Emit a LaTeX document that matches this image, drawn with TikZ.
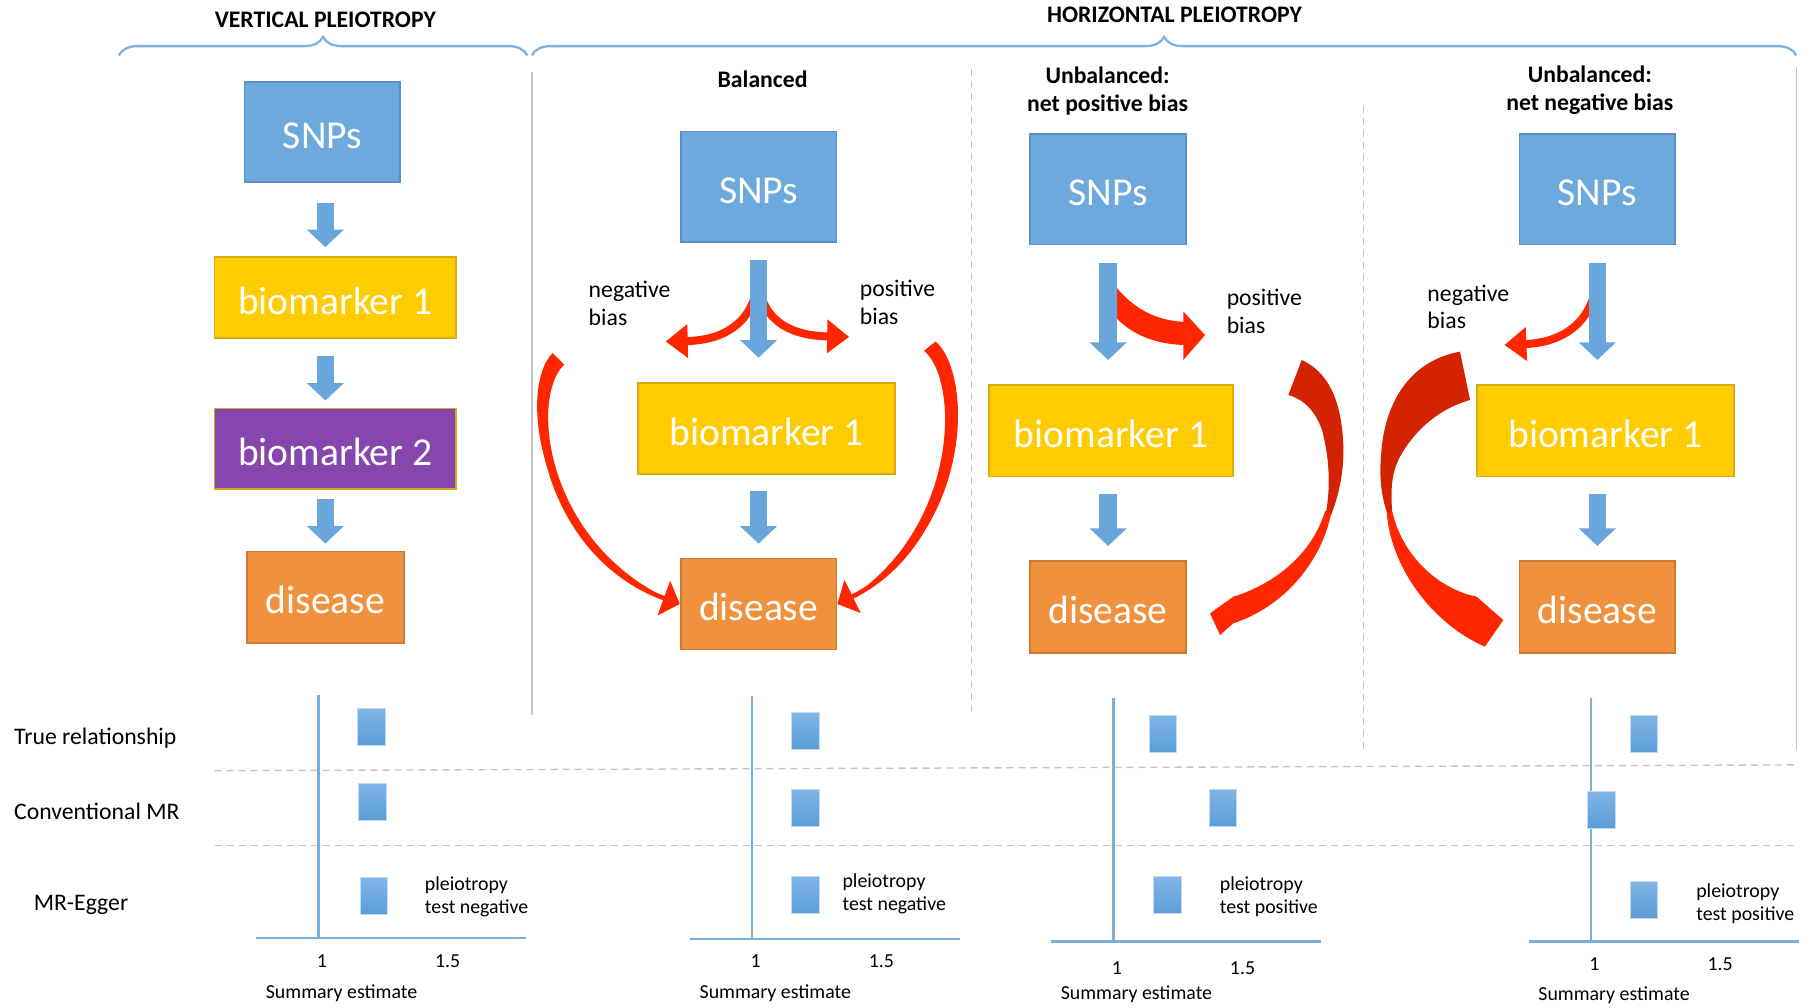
\documentclass[tikz,border=0pt]{standalone}
\usepackage{fontspec}
\setmainfont{Carlito}
\usetikzlibrary{arrows.meta,decorations.pathreplacing}
\definecolor{snpblue}{HTML}{6CA9DD}
\definecolor{snpedge}{HTML}{5B8FC5}
\definecolor{bmyellow}{HTML}{FFCC00}
\definecolor{bmedge}{HTML}{D8AC10}
\definecolor{bmpurple}{HTML}{8547AD}
\definecolor{disorange}{HTML}{F0913E}
\definecolor{disedge}{HTML}{CD7A34}
\definecolor{arrowblue}{HTML}{68A6DC}
\definecolor{biasred}{HTML}{FF2600}
\definecolor{biasdark}{HTML}{D42300}
\definecolor{braceblue}{HTML}{7DB1E0}
\definecolor{axisblue}{HTML}{7AAEDD}
\definecolor{divgray}{HTML}{C4C4C4}
\definecolor{sqtop}{HTML}{80B6E6}
\definecolor{sqbot}{HTML}{5A9DD8}
\newcommand{\boxfont}{\fontsize{22.5}{27}\selectfont}
\newcommand{\lblfont}{\fontsize{13.5}{15.7}\selectfont}
\newcommand{\notefont}{\fontsize{11.3}{13.1}\selectfont}
\begin{document}
\begin{tikzpicture}[x=0.023074cm, y=-0.023074cm,
  box/.style={line width=1pt, text=white, font=\boxfont, inner sep=0pt, text height=0.72cm, text depth=0.06cm},
  snp/.style={box, draw=snpedge, fill=snpblue, minimum width=3.115cm, minimum height=2.215cm},
  bm/.style={box, draw=bmedge, fill=bmyellow, minimum width=5.145cm, minimum height=1.823cm},
  dis/.style={box, draw=disedge, fill=disorange, minimum width=3.115cm, minimum height=1.823cm},
  head/.style={font=\lblfont\bfseries, align=center},
  lbl/.style={font=\lblfont, align=left, anchor=west, inner sep=0pt},
  note/.style={font=\notefont, align=left, anchor=west, inner sep=0pt},
  sq/.style={draw=sqtop!50!white, line width=0.6pt, top color=sqtop, bottom color=sqbot, minimum width=0.55cm, minimum height=0.74cm, inner sep=0pt},
  down/.style={arrowblue, line width=0.346cm, -{Triangle[length=0.35cm,width=0.72cm]}},
  bias/.style={biasred, line width=0.16cm, -{Triangle[length=0.44cm,width=0.65cm]}},
  bigbias/.style={biasred, line width=0.09cm, -{Triangle[length=0.34cm,width=0.72cm]}},
  hbrace/.style={braceblue, line width=1.3pt, decorate, decoration={brace, amplitude=0.37cm}},
  axisline/.style={axisblue, line width=1.4pt},
  divider/.style={divgray, line width=0.8pt},
  divdash/.style={divgray, line width=0.8pt, dash pattern=on 0.14cm off 0.1cm}]
  \useasboundingbox (0,0) rectangle (1568,873);
  \node[head] (tv) at (282,17) {VERTICAL PLEIOTROPY};
  \node[head] (th) at (1018,13) {HORIZONTAL PLEIOTROPY};
  \draw[hbrace] (103,48) -- (457,48);
  \draw[hbrace] (461,48) -- (1557,48);
  \draw[divider] (461,62) -- (461,620);
  \draw[divdash] (842,60) -- (842,620);
  \draw[divdash] (1182,92) -- (1182,650);
  \draw[divider] (1557,58) -- (1557,650);
  \draw[divdash] (186,668) -- (1557,663);
  \draw[divdash] (186,733) -- (1557,733);

  \node[snp, minimum height=2.007cm] (snp1) at (279.5,114.5) {SNPs};
  \node[bm, minimum width=4.822cm, minimum height=1.615cm] (bm1) at (290.5,258) {biomarker 1};
  \node[bm, fill=bmpurple, minimum width=4.822cm, minimum height=1.615cm] (bmb1) at (290.5,389) {biomarker 2};
  \node[dis, minimum width=3.138cm] (dis1) at (282,517.5) {disease};
  \draw[down, shorten <=0.39cm, shorten >=0.185cm] (snp1.south -| dis1.north) -- (bm1.north -| dis1.north);
  \draw[down, shorten <=0.346cm, shorten >=0.14cm] (bm1.south -| dis1.north) -- (bmb1.north -| dis1.north);
  \draw[down, shorten <=0.185cm, shorten >=0.14cm] (bmb1.south -| dis1.north) -- (dis1.north);

  \node[head] (hb) at (661,69) {Balanced};
  \node[snp] (snp2) at (657.5,162) {SNPs};
  \node[bm] (bm2) at (664.5,371.5) {biomarker 1};
  \node[dis] (dis2) at (657.5,523.5) {disease};
  \node[head] (hp) at (960,79) {Unbalanced:\\net positive bias};
  \node[snp] (snp3) at (960.5,164) {SNPs};
  \node[bm, minimum width=4.892cm] (bm3) at (963,373.5) {biomarker 1};
  \node[dis, minimum height=1.846cm] (dis3) at (960.5,526) {disease};
  \node[head] (hn) at (1378,78) {Unbalanced:\\net negative bias};
  \node[snp] (snp4) at (1384.5,164) {SNPs};
  \node[bm] (bm4) at (1391.5,373.5) {biomarker 1};
  \node[dis, minimum height=1.846cm] (dis4) at (1384.5,526) {disease};

  \node[lbl] (neg2) at (510,263) {negative\\bias};
  \node[lbl] (pos2) at (745,262) {positive\\bias};
  \node[lbl] (pos3) at (1063,270) {positive\\bias};
  \node[lbl] (neg4) at (1237,266) {negative\\bias};

  \coordinate (b2) at (657,245);
  \coordinate (nt2) at (577,296);
  \coordinate (pt2) at (736,292);
  \coordinate (b4) at (1384,245);
  \coordinate (nt4) at (1304,299);
  \draw[bias] (b2) .. controls (652,282) and (625,295) .. (nt2);
  \draw[bias] (b2) .. controls (662,282) and (690,291) .. (pt2);
  \draw[bias] (b4) .. controls (1379,282) and (1352,297) .. (nt4);
  \fill[biasred] (958,236) .. controls (975,262) and (995,277) .. (1025.7,279) -- (1025.7,270)
    -- (1044.5,290.4) -- (1025.7,312) -- (1025.7,299) .. controls (995,298) and (970,285) .. (958,262) -- cycle;
  \foreach \c in {2,3,4}{
    \draw[down, shorten <=0.346cm, shorten >=0.49cm] (snp\c.south) -- (snp\c.south |- bm\c.north);
    \draw[down, shorten <=0.323cm, shorten >=0.277cm] (bm\c.south -| snp\c.south) -- (dis\c.north);}

  \coordinate (lt2) at (484,311);
  \coordinate (rt2) at (806,300);
  \fill[biasred] (479,306) .. controls (447,338) and (468,482) .. (588,523)
    .. controls (474,476) and (458,346) .. (489,316) -- cycle;
  \fill[biasred] (811,296) .. controls (846,327) and (842,474) .. (727,524)
    .. controls (829,467) and (834,333) .. (801,304) -- cycle;
  \draw[bigbias] (lt2) .. controls (452,342) and (470,480) .. (dis2.west);
  \draw[bigbias] (rt2) .. controls (840,330) and (835,470) .. (dis2.east);

  \fill[biasdark] (1128.3,312) .. controls (1150,322) and (1163,345) .. (1164.4,387)
    .. controls (1165,410) and (1160,430) .. (1154,446) -- (1149,446)
    .. controls (1153,425) and (1153,400) .. (1146,373)
    .. controls (1140,356) and (1130,346) .. (1116.7,342.4) -- cycle;
  \fill[biasred] (1154,444) .. controls (1146,485) and (1115,525) .. (1069,540.3) -- (1057.5,550.4)
    -- (1048.8,531.6) -- (1069,517.2) .. controls (1108,505) and (1138,478) .. (1148.5,443) -- cycle;
  \fill[biasdark] (1265.5,304.8) .. controls (1225,312) and (1200,345) .. (1197,395)
    .. controls (1195,420) and (1199,435) .. (1203,447) -- (1207,447)
    .. controls (1205,425) and (1206,410) .. (1213.5,395.8)
    .. controls (1225,375) and (1245,355) .. (1274.2,346.7) -- cycle;
  \fill[biasred] (1202,444) .. controls (1205,490) and (1240,540) .. (1287.1,560.5) -- (1303,537.4)
    -- (1279.9,517.2) .. controls (1245,510) and (1215,480) .. (1207,444) -- cycle;

  \node[lbl] (rtrue) at (12,640) {True relationship};
  \node[lbl] (rconv) at (12,703) {Conventional MR};
  \node[lbl] (regger) at (29,784) {MR-Egger};
  \foreach \i/\ox/\oy/\ty/\ly in {1/276/813/833/861, 2/652/814/833/861, 3/965/816/839/862, 4/1379/816/836/863}{
    \coordinate (o\i) at (\ox,\oy);
    \draw[axisline] (\ox,\oy-211) -- (o\i);
    \draw[axisline] (\ox-54,\oy) -- (\ox+180,\oy);
    \node[note, anchor=center] (one\i) at (\ox+3,\ty) {1};
    \node[note, anchor=center] (onefive\i) at (\ox+112,\ty) {1.5};
    \node[note, anchor=center] (se\i) at (\ox+20,\ly) {Summary estimate};}
  \foreach \n/\x/\y in {t1/322/630, c1/323/695, e1/324/777, t2/698/634, c2/698/700, e2/698/776,
    t3/1008/636, c3/1060/700, e3/1012/776, t4/1425/636, c4/1388/702, e4/1425/780}
    \node[sq] (sq\n) at (\x,\y) {};
  \node[note] (pt1) at (368,777) {pleiotropy\\test negative};
  \node[note] (pt2) at (730,775) {pleiotropy\\test negative};
  \node[note] (pt3) at (1057,777) {pleiotropy\\test positive};
  \node[note] (pt4) at (1470,783) {pleiotropy\\test positive};
\end{tikzpicture}
\end{document}
